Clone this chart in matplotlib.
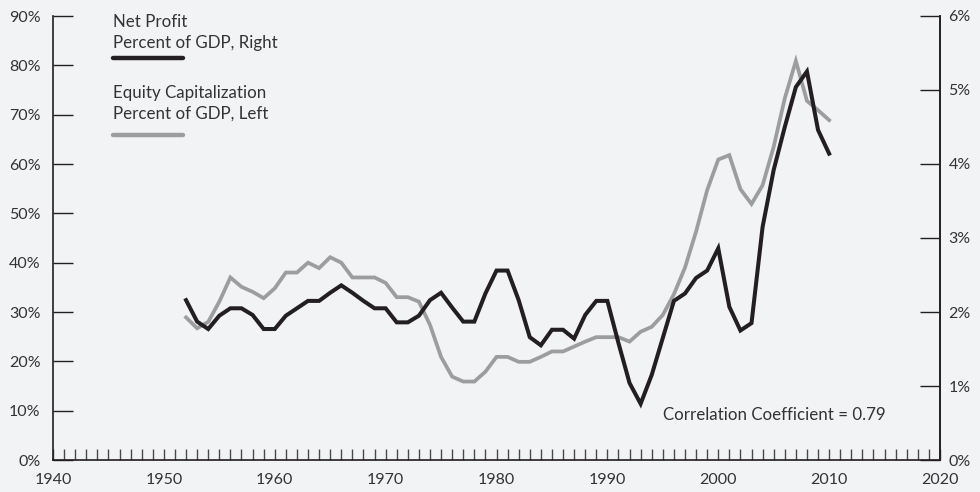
import numpy as np
import matplotlib
matplotlib.use('Agg')
import matplotlib.pyplot as plt
from matplotlib.lines import Line2D
from matplotlib.ticker import FuncFormatter, MultipleLocator

# ── data ───────────────────────────────────────────────────────────────────
years = np.arange(1952, 2011)

# Equity capitalization, percent of GDP (left axis)
equity_cap = [28.9, 26.7, 28.0, 32.1, 37.0, 35.1, 34.1, 32.8, 34.8, 38.0,
              38.0, 40.0, 38.9, 41.1, 40.0, 37.0, 37.0, 37.0, 35.9, 33.0,
              33.0, 32.1, 27.4, 20.9, 16.9, 15.9, 15.9, 17.9, 20.9, 20.9,
              19.9, 19.9, 20.9, 22.0, 22.0, 23.0, 24.0, 24.9, 24.9, 24.9,
              24.0, 26.0, 27.0, 29.4, 33.6, 39.0, 46.3, 54.7, 60.9, 61.8,
              54.9, 51.9, 55.7, 63.5, 73.3, 80.9, 72.8, 70.9, 68.9]

# Net profit, percent of GDP (right axis)
net_profit = [2.16, 1.87, 1.77, 1.95, 2.05, 2.05, 1.96, 1.77, 1.77, 1.95,
              2.05, 2.15, 2.15, 2.26, 2.36, 2.26, 2.15, 2.05, 2.05, 1.86,
              1.86, 1.95, 2.16, 2.26, 2.06, 1.87, 1.87, 2.25, 2.56, 2.56,
              2.16, 1.66, 1.55, 1.76, 1.76, 1.64, 1.96, 2.15, 2.15, 1.58,
              1.04, 0.76, 1.15, 1.65, 2.15, 2.25, 2.46, 2.56, 2.86, 2.07,
              1.75, 1.85, 3.15, 3.92, 4.50, 5.04, 5.25, 4.46, 4.14]

left_ticks = np.arange(0, 91, 10)
right_ticks = np.arange(0, 7, 1)
decades = np.arange(1940, 2021, 10)

BG = '#f2f3f5'
INK = '#231f20'
TXT = '#333333'
BLACK = '#231f20'
GREY = '#9c9d9f'

plt.rcParams['font.family'] = ['Lato', 'DejaVu Sans']

W, H = 980, 492
fig = plt.figure(figsize=(W / 100, H / 100), dpi=100, facecolor=BG)
ax = fig.add_axes([53 / W, (H - 460) / H, (940 - 53) / W, (460 - 16) / H])
ax.set_facecolor(BG)

ax.plot(years, equity_cap, color=GREY, lw=2.7, solid_joinstyle='miter',
        zorder=2)
ax.set_xlim(1940, 2020)
ax.set_ylim(0, 90)

ax2 = ax.twinx()
ax2.plot(years, net_profit, color=BLACK, lw=2.9, solid_joinstyle='miter',
         zorder=3)
ax2.set_ylim(0, 6)
ax2.patch.set_visible(False)

# spines
ax.spines['top'].set_visible(False)
ax2.spines['top'].set_visible(False)
for s in ['left', 'bottom', 'right']:
    ax.spines[s].set_color(INK)
    ax.spines[s].set_linewidth(1.2)
for s in ['left', 'bottom']:
    ax2.spines[s].set_visible(False)
ax2.spines['right'].set_color(INK)
ax2.spines['right'].set_linewidth(1.2)

# y ticks
ax.set_yticks(left_ticks)
ax.yaxis.set_major_formatter(FuncFormatter(lambda v, p: f'{v:.0f}%'))
ax.tick_params(axis='y', direction='in', length=14.4, width=1, color=INK,
               pad=9, labelsize=11.5, labelcolor=TXT)
ax2.set_yticks(right_ticks)
ax2.yaxis.set_major_formatter(FuncFormatter(lambda v, p: f'{v:.0f}%'))
ax2.tick_params(axis='y', direction='in', length=14.4, width=1, color=INK,
                pad=6, labelsize=11.5, labelcolor=TXT)

# x ticks
ax.set_xticks(decades)
ax.xaxis.set_minor_locator(MultipleLocator(1))
ax.tick_params(axis='x', which='both', direction='in', length=8, width=1,
               color='#4a4a4a', pad=9, labelsize=11.5, labelcolor=TXT)

# legend block
def px(x, y):
    return x / W, 1 - y / H

fs = 12.2
fig.text(*px(113, 27), 'Net Profit', fontsize=fs, color=TXT, va='baseline')
fig.text(*px(113, 48), 'Percent of GDP, Right', fontsize=fs, color=TXT,
         va='baseline')
fig.add_artist(Line2D([113 / W, 183 / W], [1 - 58 / H] * 2, color=BLACK,
                      lw=3.2, solid_capstyle='round'))
fig.text(*px(113, 98), 'Equity Capitalization', fontsize=fs, color=TXT,
         va='baseline')
fig.text(*px(113, 119), 'Percent of GDP, Left', fontsize=fs, color=TXT,
         va='baseline')
fig.add_artist(Line2D([113 / W, 183 / W], [1 - 135 / H] * 2, color=GREY,
                      lw=3.2, solid_capstyle='round'))

fig.text(*px(663, 420), 'Correlation Coefficient = 0.79', fontsize=fs,
         color=TXT, va='baseline')

fig.savefig('out.png', dpi=100, facecolor=BG)
